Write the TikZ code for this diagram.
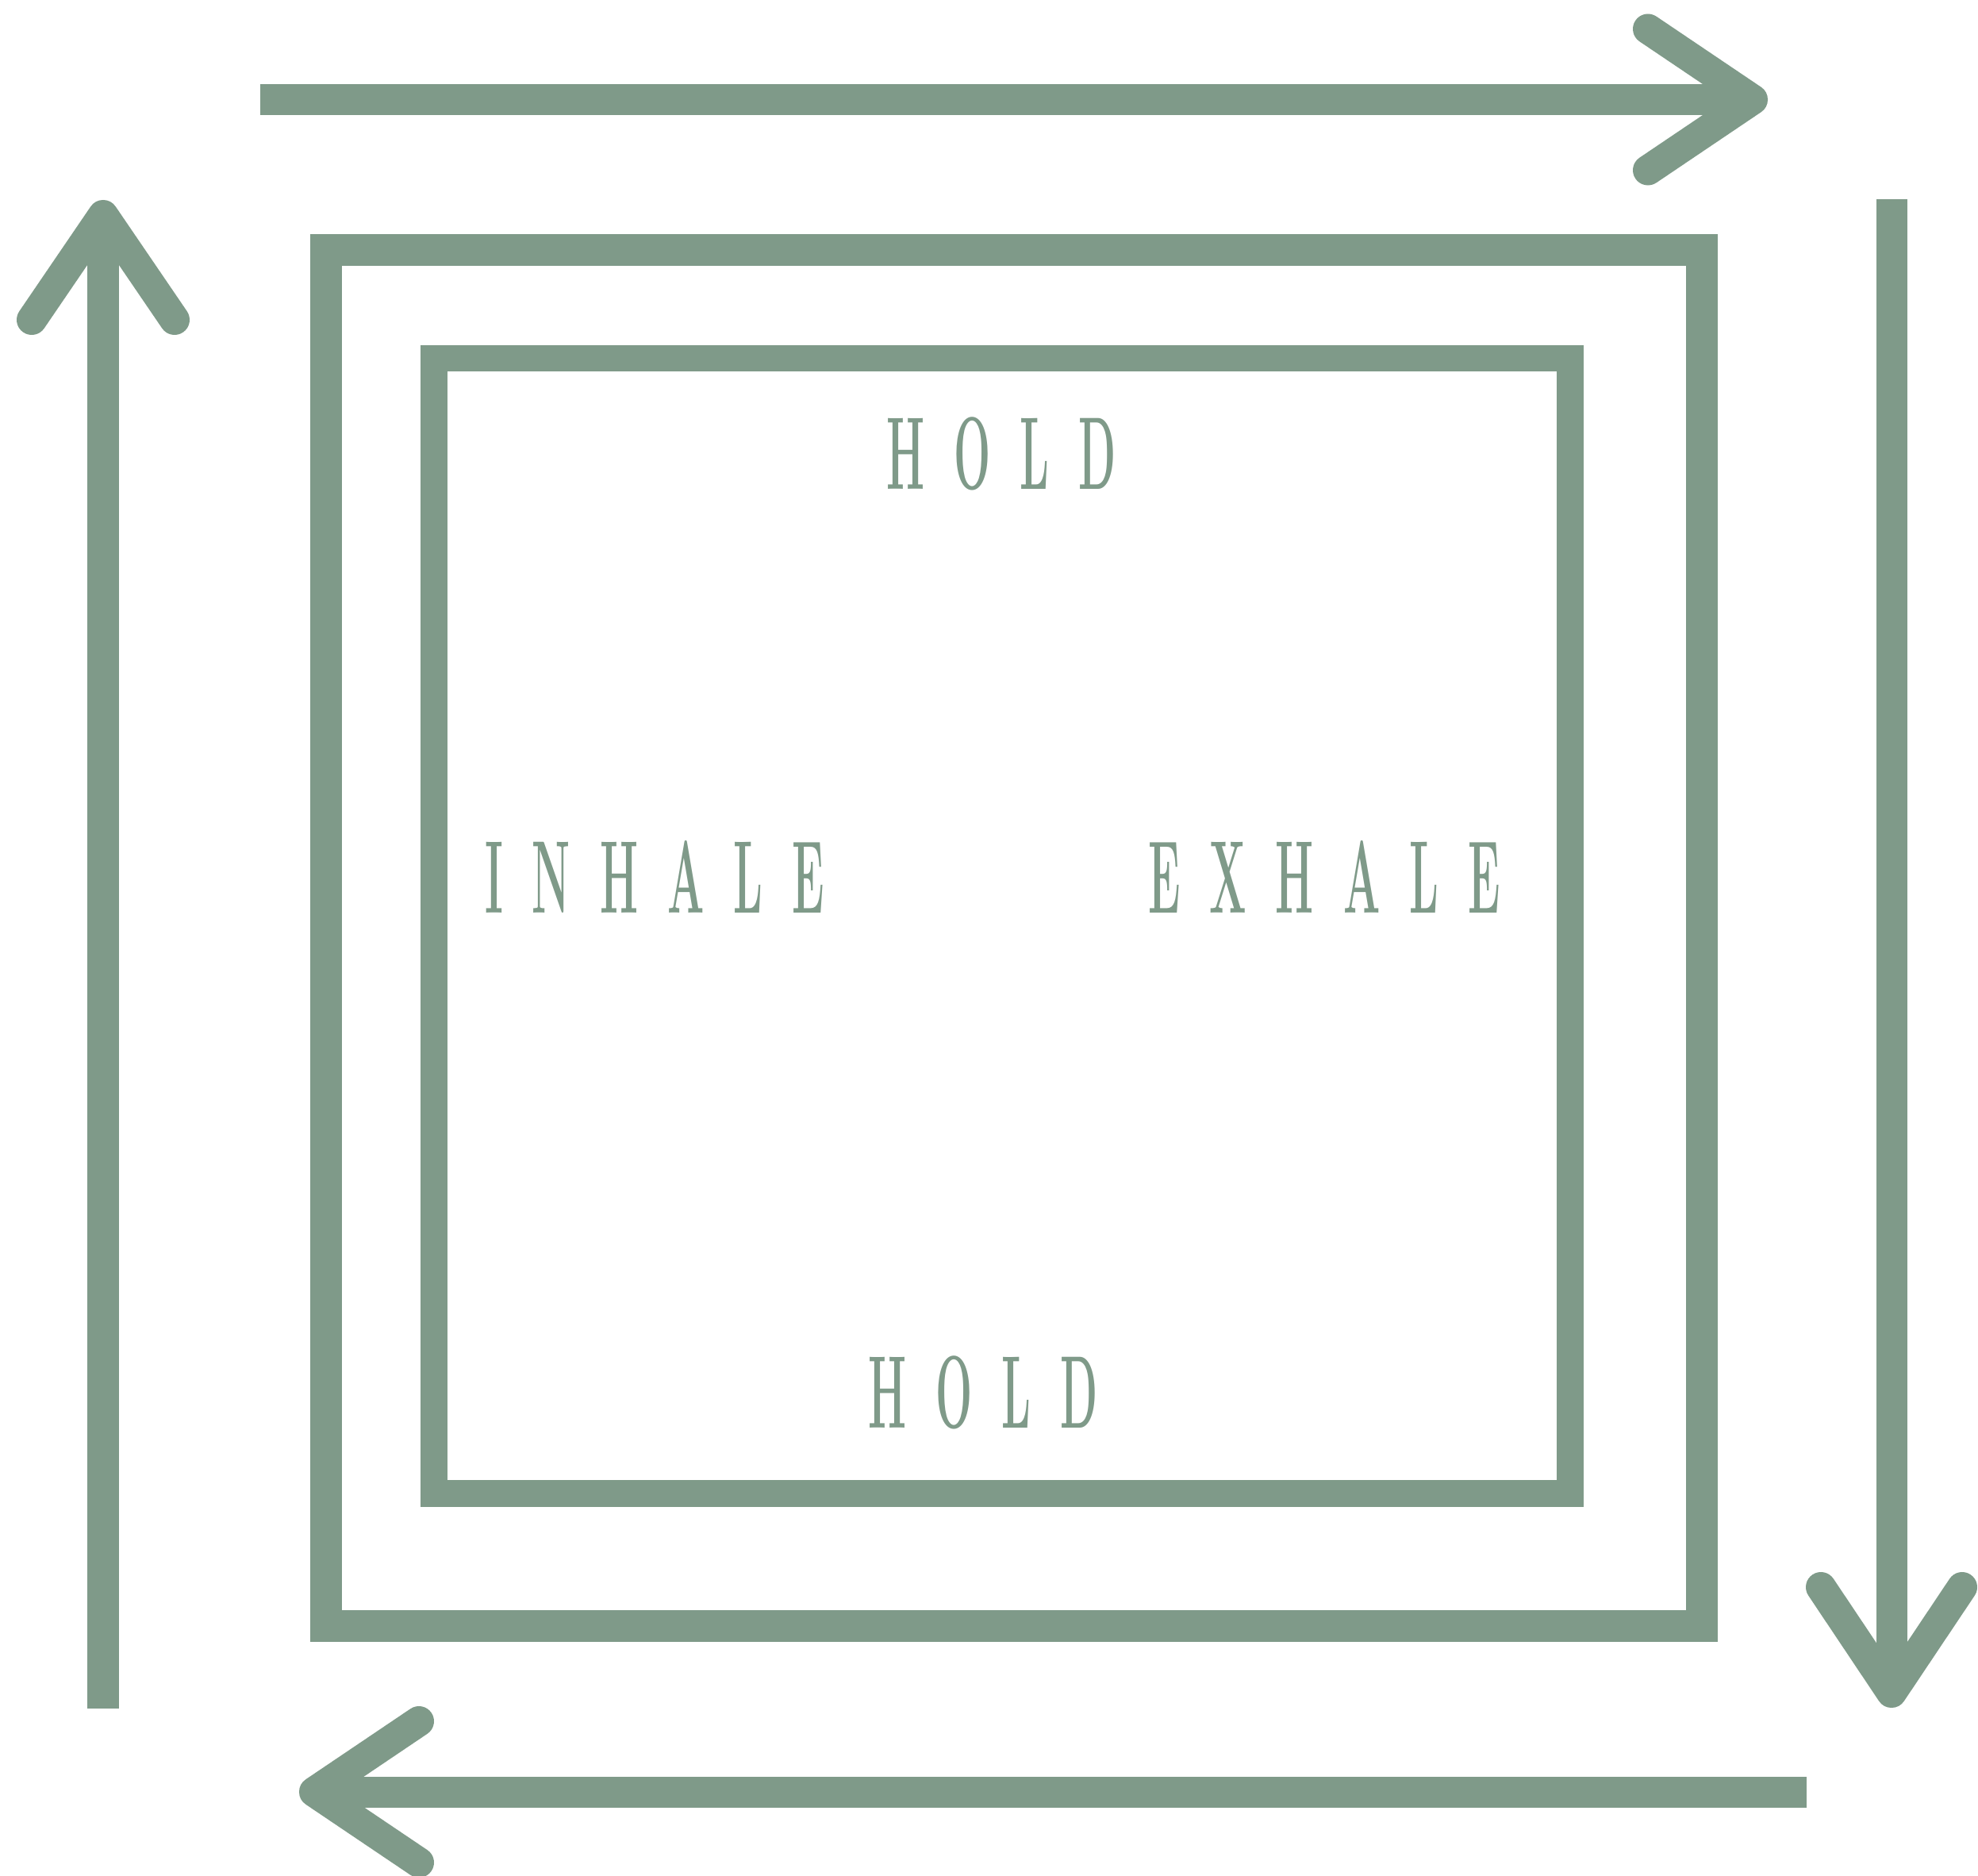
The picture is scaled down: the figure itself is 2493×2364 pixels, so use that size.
\documentclass[tikz,border=0pt]{standalone}
\usepackage{graphicx}
\usepackage{tikz}
\usetikzlibrary{positioning}

\definecolor{sage}{RGB}{127,154,137}
\newcommand{\ltr}[1]{\scalebox{0.42}[1]{#1}}
\newcommand{\gap}{\hspace{0.37cm}}

\begin{document}
\begin{tikzpicture}[x=0.01cm,y=-0.01cm,
    shaft/.style={sage,line width=0.39cm},
    head/.style={sage,line width=0.38cm,line cap=round,line join=round},
    word/.style={sage,inner sep=0pt,font=\fontsize{37}{40}\selectfont\bfseries}]
  \useasboundingbox (0,0) rectangle (2493,2364);
  % squares
  \draw[sage,line width=0.40cm] (411,315) rectangle (2145,2049);
  \draw[sage,line width=0.335cm] (547,451.5) rectangle (1979,1882);
  % top arrow
  \coordinate (t0) at (328,125.5);
  \coordinate (t1) at (2209,125.5);
  \draw[shaft] (t0) -- (t1);
  \draw[head] (2077,36.5) -- (t1) -- (2077,214.5);
  % right arrow
  \coordinate (r0) at (2384,251);
  \coordinate (r1) at (2384,2133);
  \draw[shaft] (r0) -- (r1);
  \draw[head] (2295,2000) -- (r1) -- (2473,2000);
  % bottom arrow
  \coordinate (b0) at (2277,2258);
  \coordinate (b1) at (396,2258);
  \draw[shaft] (b0) -- (b1);
  \draw[head] (528,2169) -- (b1) -- (528,2347);
  % left arrow
  \coordinate (l0) at (130,2153);
  \coordinate (l1) at (130,271);
  \draw[shaft] (l0) -- (l1);
  \draw[head] (40,403) -- (l1) -- (220,403);
  % words
  \node[word] (holdtop) at (1262,572)
    {\ltr H\gap\ltr O\gap\ltr L\gap\ltr D};
  \node[word] (inhale) at (825,1105)
    {\ltr I\gap\ltr N\gap\ltr H\gap\ltr A\gap\ltr L\gap\ltr E};
  \node[word] (exhale) at (1669,1105)
    {\ltr E\gap\ltr X\gap\ltr H\gap\ltr A\gap\ltr L\gap\ltr E};
  \node[word] (holdbot) at (1239,1755)
    {\ltr H\gap\ltr O\gap\ltr L\gap\ltr D};
\end{tikzpicture}
\end{document}
